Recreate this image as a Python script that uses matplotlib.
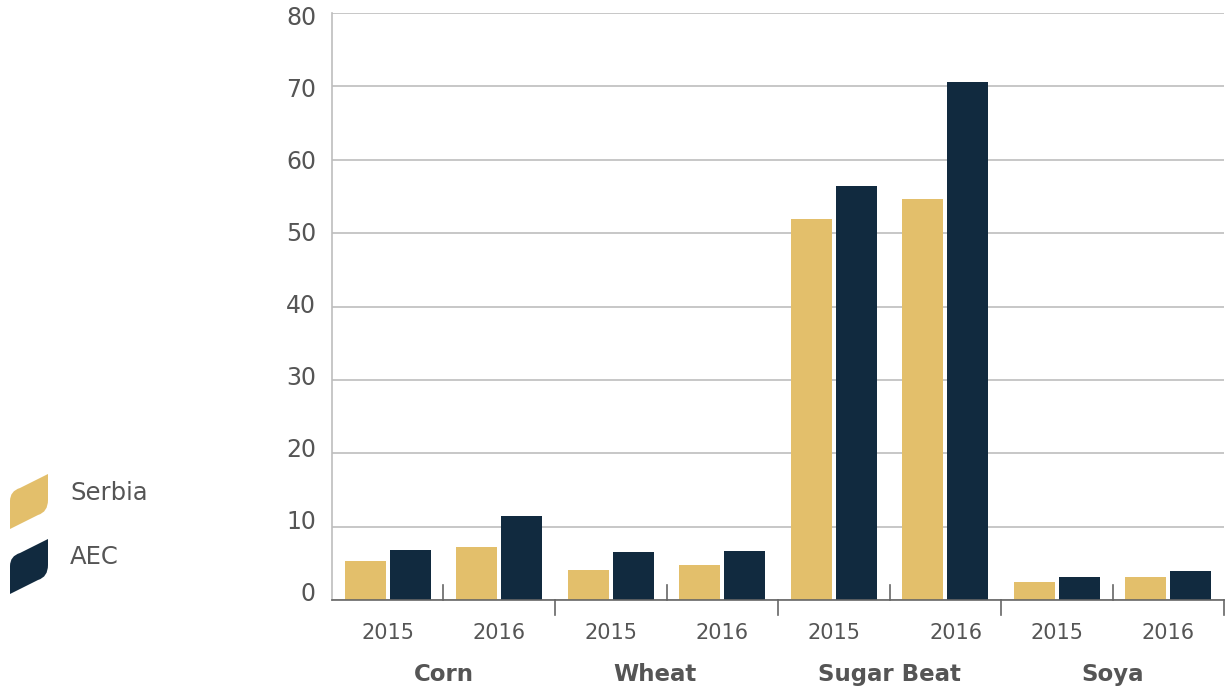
import matplotlib
matplotlib.use("Agg")
import matplotlib.pyplot as plt
import numpy as np
from matplotlib.path import Path
from matplotlib.patches import PathPatch

# Crop yields by category and year
crops = ["Corn", "Wheat", "Sugar Beat", "Soya"]
years = ["2015", "2016"]
serbia = [5.3, 7.2, 4.1, 4.8, 51.9, 54.6, 2.5, 3.1]
aec = [6.8, 11.4, 6.5, 6.7, 56.4, 70.6, 3.1, 4.0]
yticks = [0, 10, 20, 30, 40, 50, 60, 70, 80]

GOLD = "#E3BF6B"
NAVY = "#112A3F"
TEXT = "#555555"
GRID = "#BDBDBD"

plt.rcParams["font.family"] = ["DejaVu Sans"]

W_PX, H_PX = 1225, 687
fig = plt.figure(figsize=(W_PX / 100, H_PX / 100), dpi=100)
ax = fig.add_axes([332 / W_PX, 1 - 600 / H_PX, (1224 - 332) / W_PX, (600 - 13) / H_PX])

n = len(serbia)
x = np.arange(n)
w = 0.37
gap = 0.035
ax.bar(x - (w + gap) / 2, serbia, width=w, color=GOLD, zorder=3)
ax.bar(x + (w + gap) / 2, aec, width=w, color=NAVY, zorder=3)

ax.set_xlim(-0.5, n - 0.5)
ax.set_ylim(0, 80)
ax.set_yticks(yticks)
ax.set_yticklabels([])
ax.yaxis.grid(True, color=GRID, linewidth=1.2, zorder=0)
ax.tick_params(axis="y", length=0)

# value labels on the y axis, slightly compressed toward the middle
ytrans = matplotlib.transforms.blended_transform_factory(fig.transFigure, ax.transData)
for v in yticks:
    ax.text(316 / W_PX, v * 0.982 + 0.75, str(v), transform=ytrans, ha="right", va="center",
            fontsize=17, color=TEXT)

for s in ["top", "right"]:
    ax.spines[s].set_visible(False)
ax.spines["left"].set_color(GRID)
ax.spines["left"].set_linewidth(1.2)
ax.spines["bottom"].set_color("#666666")
ax.spines["bottom"].set_linewidth(1.2)
ax.spines["bottom"].set_zorder(4)

ax.set_xticks([])
trans = ax.get_xaxis_transform()
# short ticks between the two years of a crop, pointing up
for i in range(len(crops)):
    xm = 2 * i + 0.5
    ax.plot([xm, xm], [0, 0.025], color="#666666", lw=1.2, transform=trans, clip_on=False, zorder=4)
# longer ticks between crops, pointing down
for xb in [1.5, 3.5, 5.5, 7.5]:
    ax.plot([xb, xb], [0, -0.026], color="#666666", lw=1.2, transform=trans, clip_on=False, zorder=4)

# year labels and crop labels
for i in range(n):
    xo = 0.1 if i == 5 else 0.0
    ax.text(i + xo, -0.057, years[i % 2], transform=trans, ha="center", va="center",
            fontsize=15, color=TEXT)
crop_shift = [0.0, -0.1, 0.0, 0.0]
for j, c in enumerate(crops):
    ax.text(2 * j + 0.5 + crop_shift[j], -0.127, c, transform=trans, ha="center", va="center",
            fontsize=16.5, color=TEXT, fontweight="bold")


def leaf(x0, y0, color):
    """Slanted legend swatch with rounded top-left and bottom-right corners (pixel coords, y down)."""
    W, H, S = 38, 38, 17
    verts = [
        (x0, y0 + S + 10),          # left edge, below rounded corner
        (x0, y0 + S + H),           # bottom-left (sharp)
        (x0 + W - 10, y0 + H + 3),  # bottom edge, before rounded corner
        (x0 + W, y0 + H),           # control point
        (x0 + W, y0 + H - 12),      # right edge, above rounded corner
        (x0 + W, y0),               # top-right (sharp)
        (x0 + 10, y0 + S - 3),      # top edge, before rounded corner
        (x0, y0 + S),               # control point
        (x0, y0 + S + 10),          # back to start
        (x0, y0 + S + 10),
    ]
    codes = [Path.MOVETO, Path.LINETO, Path.LINETO, Path.CURVE3, Path.CURVE3,
             Path.LINETO, Path.LINETO, Path.CURVE3, Path.CURVE3, Path.CLOSEPOLY]
    v = [(px / W_PX, 1 - py / H_PX) for px, py in verts]
    fig.patches.append(PathPatch(Path(v, codes), transform=fig.transFigure,
                                 facecolor=color, edgecolor="none"))


leaf(10, 474, GOLD)
leaf(10, 539, NAVY)
fig.text(70 / W_PX, 1 - 493 / H_PX, "Serbia", fontsize=17.5, color=TEXT, va="center", ha="left")
fig.text(70 / W_PX, 1 - 557 / H_PX, "AEC", fontsize=17.5, color=TEXT, va="center", ha="left")

fig.savefig("out.png", dpi=100, facecolor="white")
